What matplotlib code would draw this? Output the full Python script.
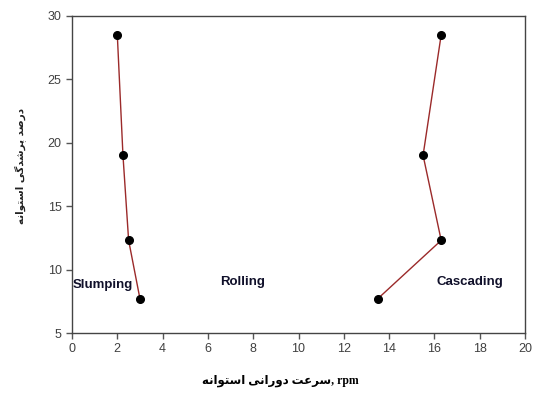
import matplotlib
matplotlib.use("Agg")
import matplotlib.pyplot as plt

# Data
slumping_x = [2.0, 2.25, 2.5, 3.0]
slumping_y = [28.5, 19.0, 12.3, 7.7]
cascading_x = [16.3, 15.5, 16.3, 13.5]
cascading_y = [28.5, 19.0, 12.3, 7.7]
x_ticks = [0, 2, 4, 6, 8, 10, 12, 14, 16, 18, 20]
y_ticks = [5, 10, 15, 20, 25, 30]
region_labels = ["Slumping", "Rolling", "Cascading"]
region_x = [1.36, 7.53, 17.57]
region_y = [8.75, 9.0, 9.0]

# Persian labels in visual (left-to-right) order with presentation forms
xlabel_fa = ("\uFEEA\uFEE7\uFE8D\uFEEE\uFE98\uFEB3\uFE8D "
             "\uFEF0\uFEE7\uFE8D\uFEAD\uFEED\uFEA9 "
             "\uFE96\uFECB\uFEAE\uFEB3, rpm")
ylabel_fa = ("\uFEEA\uFEE7\uFE8D\uFEEE\uFE98\uFEB3\uFE8D "
             "\uFEF0\uFB94\uFEAA\uFEB7\uFEAE\uFB58 "
             "\uFEAA\uFEBB\uFEAD\uFEA9")

fig = plt.figure(figsize=(5.36, 3.93), dpi=100)
ax = fig.add_axes([72/536, 1-333/393, (525-72)/536, (333-15.7)/393])

line_color = "#9b2a2a"
for xs, ys in [(slumping_x, slumping_y), (cascading_x, cascading_y)]:
    ax.plot(xs, ys, color=line_color, lw=1.0, marker="o", markersize=5.5,
            markerfacecolor="black", markeredgecolor="black", zorder=3)

for lab, x, y in zip(region_labels, region_x, region_y):
    ax.text(x, y, lab, ha="center", va="center", fontsize=9.5,
            fontweight="bold", family="Liberation Sans", color="#10102a")

ax.set_xlim(0, 20)
ax.set_ylim(5, 30)
ax.set_xticks(x_ticks)
ax.set_yticks(y_ticks)
ax.tick_params(direction="out", length=4, width=1, color="#555555",
               labelcolor="#404040", labelsize=9)
for lbl in ax.get_xticklabels() + ax.get_yticklabels():
    lbl.set_family("Liberation Sans")
for sp in ax.spines.values():
    sp.set_color("#444444")
    sp.set_linewidth(1)

fig.text(280/536, 1-381/393, xlabel_fa, ha="center", va="center",
         fontsize=8.5, fontweight="bold",
         family=["Liberation Serif", "DejaVu Sans"], color="black")
fig.text(20/536, 1-166/393, ylabel_fa, ha="center", va="center",
         rotation=90, fontsize=7.5, fontweight="bold",
         family=["DejaVu Sans"], color="#222222")

fig.savefig("out.png", dpi=100)
